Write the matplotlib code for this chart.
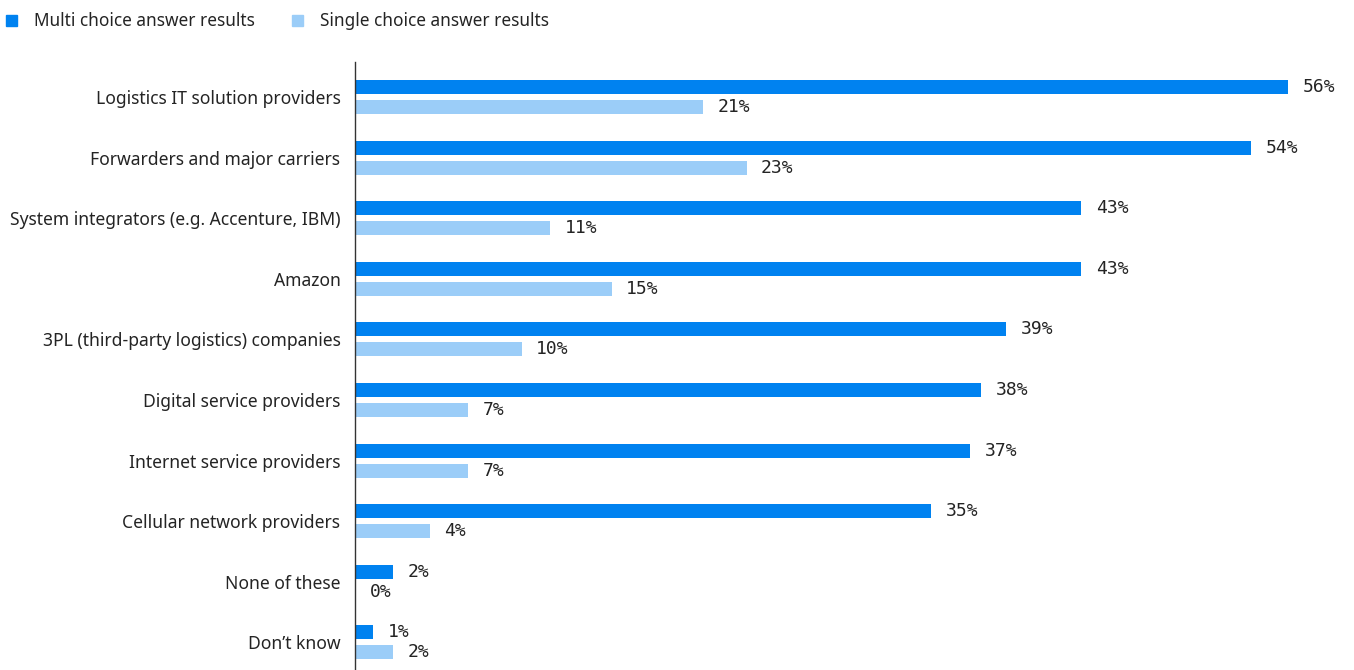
import matplotlib
matplotlib.use("Agg")
import matplotlib.pyplot as plt
from matplotlib.patches import Rectangle
import numpy as np

categories = [
    "Logistics IT solution providers",
    "Forwarders and major carriers",
    "System integrators (e.g. Accenture, IBM)",
    "Amazon",
    "3PL (third-party logistics) companies",
    "Digital service providers",
    "Internet service providers",
    "Cellular network providers",
    "None of these",
    "Don\u2019t know",
]
multi_values = [56.0, 53.8, 43.6, 43.6, 39.1, 37.6, 36.9, 34.6, 2.3, 1.1]
single_values = [20.9, 23.5, 11.7, 15.4, 10.0, 6.8, 6.8, 4.5, 0.0, 2.3]
multi_labels = ["56%", "54%", "43%", "43%", "39%", "38%", "37%", "35%", "2%", "1%"]
single_labels = ["21%", "23%", "11%", "15%", "10%", "7%", "7%", "4%", "0%", "2%"]
series_names = ["Multi choice answer results", "Single choice answer results"]

DARK = "#0082F0"
LIGHT = "#9BCDF8"
TEXT = "#242424"

W, H = 1354, 670
fig = plt.figure(figsize=(W / 100, H / 100), dpi=100)

ax_left, ax_top, ax_bottom = 355, 62, 670
px_per_unit = 16.66
xmax = 59.5
ax_w = xmax * px_per_unit
ax = fig.add_axes([ax_left / W, 1 - ax_bottom / H, ax_w / W, (ax_bottom - ax_top) / H])

group_px = 60.6
y = np.arange(len(categories))
bar_h = 14 / group_px
off = 10 / group_px

ax.barh(y - off, multi_values, height=bar_h, color=DARK)
ax.barh(y + off, single_values, height=bar_h, color=LIGHT)

NUMFS = 13
for yi, v, lab in zip(y, multi_values, multi_labels):
    ax.annotate(lab, (v, yi - off), xytext=(10.5, 0), textcoords="offset points",
                va="center", ha="left", fontsize=NUMFS, family="DejaVu Sans Mono", color=TEXT)
for yi, v, lab in zip(y, single_values, single_labels):
    ax.annotate(lab, (v, yi + off), xytext=(10.5, 0), textcoords="offset points",
                va="center", ha="left", fontsize=NUMFS, family="DejaVu Sans Mono", color=TEXT)

ax.set_xlim(0, xmax)
top_units = (97 - ax_top) / group_px
ax.set_ylim(-top_units + (ax_bottom - ax_top) / group_px, -top_units)
ax.set_yticks(y)
ax.set_yticklabels(categories, fontsize=12.6, family="Noto Sans", color=TEXT)
ax.tick_params(axis="y", length=0, pad=10.5)
ax.set_xticks([])
for s in ["top", "right", "bottom"]:
    ax.spines[s].set_visible(False)
ax.spines["left"].set_color("#333333")
ax.spines["left"].set_linewidth(1.0)

# Legend drawn manually
def legend_item(x_sq, x_txt, color, text):
    fig.patches.append(Rectangle((x_sq / W, 1 - 26 / H), 11 / W, 11 / H,
                                 transform=fig.transFigure, color=color, figure=fig))
    fig.text(x_txt / W, 1 - 21 / H, text, fontsize=12.4, family="Noto Sans",
             color=TEXT, va="center", ha="left")

legend_item(6, 34, DARK, series_names[0])
legend_item(292, 320, LIGHT, series_names[1])

fig.savefig("out.png", dpi=100)
